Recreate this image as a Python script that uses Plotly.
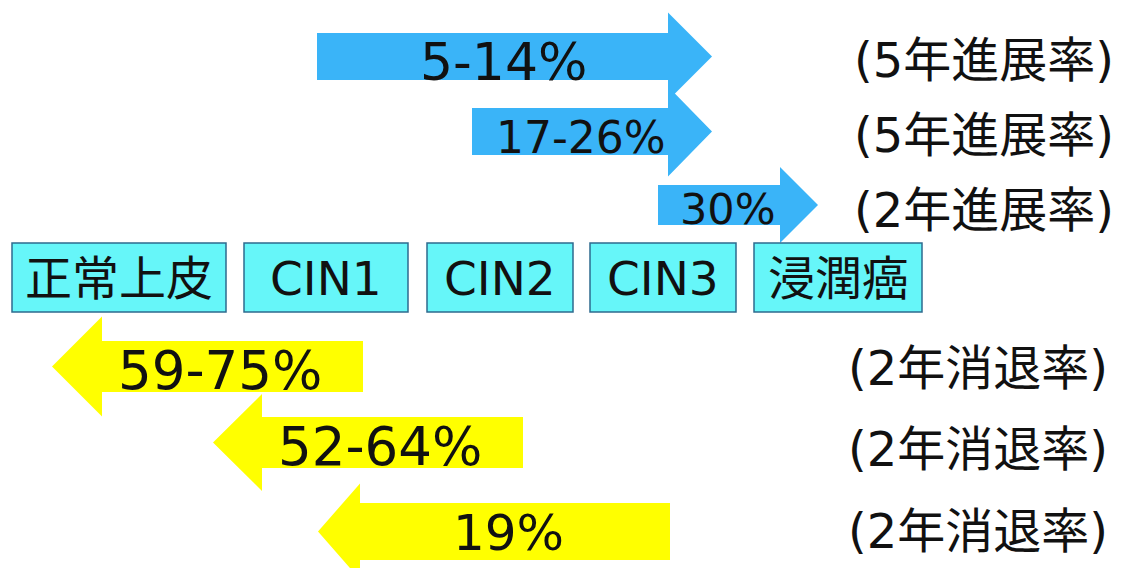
import plotly.graph_objects as go

# ---- content ----
stages = ["正常上皮", "CIN1", "CIN2", "CIN3", "浸潤癌"]
progression_rates = ["5-14%", "17-26%", "30%"]
progression_periods = ["(5年進展率)", "(5年進展率)", "(2年進展率)"]
regression_rates = ["59-75%", "52-64%", "19%"]
regression_periods = ["(2年消退率)", "(2年消退率)", "(2年消退率)"]

# ---- layout geometry (pixel-like axis units) ----
W, H = 1121, 568
box_x = [(12, 226), (244, 408), (427, 573), (590, 736), (754, 922)]
box_y = (243, 312)
stage_font = 47

# right-pointing arrows: tail x, head base x, tip x, center y, shaft half, head half
prog_geom = [(317, 668, 712, 56.5, 23.5, 44),
             (472, 668, 712, 131.5, 23.5, 45),
             (658, 780, 818, 205, 20, 38)]
prog_text = [(503, 62, 52), (581, 137, 44), (728, 209, 43)]
prog_label_y = [60, 135, 210]

# left-pointing arrows: tip x, head base x, tail x, center y, shaft half, head half
reg_geom = [(52, 102, 363, 366.5, 25.5, 50),
            (213, 262, 523, 442.5, 25.5, 48.5),
            (318, 360, 670, 531.5, 28.5, 48)]
reg_text = [(220, 370, 53), (380, 446, 53), (508, 533, 50)]
reg_label_y = [368, 449, 531]

BLUE = "#3ab4f8"
YELLOW = "#ffff00"
BOX_FILL = "#66f6f9"
BOX_LINE = "#2e6b8e"
FONT = "DejaVu Sans, Noto Sans CJK JP, sans-serif"

fig = go.Figure()

def add_poly(xs, ys, color):
    fig.add_trace(go.Scatter(x=xs + [xs[0]], y=ys + [ys[0]], mode="lines",
                             fill="toself", fillcolor=color,
                             line=dict(width=0, color=color),
                             hoverinfo="skip", showlegend=False))

for (x0, xb, xt, yc, h, hh) in prog_geom:
    add_poly([x0, xb, xb, xt, xb, xb, x0],
             [yc - h, yc - h, yc - hh, yc, yc + hh, yc + h, yc + h], BLUE)

for (xt, xb, x1, yc, h, hh) in reg_geom:
    add_poly([x1, xb, xb, xt, xb, xb, x1],
             [yc - h, yc - h, yc - hh, yc, yc + hh, yc + h, yc + h], YELLOW)

for (x0, x1), name in zip(box_x, stages):
    fig.add_shape(type="rect", x0=x0, x1=x1, y0=box_y[0], y1=box_y[1],
                  xref="x", yref="y", fillcolor=BOX_FILL,
                  line=dict(color=BOX_LINE, width=1.5), layer="above")
    fig.add_annotation(x=(x0 + x1) / 2, y=(box_y[0] + box_y[1]) / 2 + 1,
                       text=name, showarrow=False, xanchor="center",
                       yanchor="middle",
                       font=dict(family=FONT, size=stage_font, color="#111111"))

for (tx, ty, fs), t in zip(prog_text, progression_rates):
    fig.add_annotation(x=tx, y=ty, text=t, showarrow=False, xanchor="center",
                       yanchor="middle",
                       font=dict(family=FONT, size=fs, color="#111111"))
for (tx, ty, fs), t in zip(reg_text, regression_rates):
    fig.add_annotation(x=tx, y=ty, text=t, showarrow=False, xanchor="center",
                       yanchor="middle",
                       font=dict(family=FONT, size=fs, color="#111111"))

for y, t in zip(prog_label_y, progression_periods):
    fig.add_annotation(x=1116, y=y, text=t, showarrow=False, xanchor="right",
                       yanchor="middle",
                       font=dict(family=FONT, size=48, color="#111111"))
for y, t in zip(reg_label_y, regression_periods):
    fig.add_annotation(x=1110, y=y, text=t, showarrow=False, xanchor="right",
                       yanchor="middle",
                       font=dict(family=FONT, size=48, color="#111111"))

fig.update_layout(
    width=W, height=H, margin=dict(l=0, r=0, t=0, b=0),
    paper_bgcolor="white", plot_bgcolor="white",
    xaxis=dict(range=[0, W], visible=False, fixedrange=True),
    yaxis=dict(range=[H, 0], visible=False, fixedrange=True),
    showlegend=False,
)

fig.write_html("out.html", config={"displayModeBar": False},
               post_script="document.body.style.margin='0';"
                           "document.body.style.overflow='hidden';")
